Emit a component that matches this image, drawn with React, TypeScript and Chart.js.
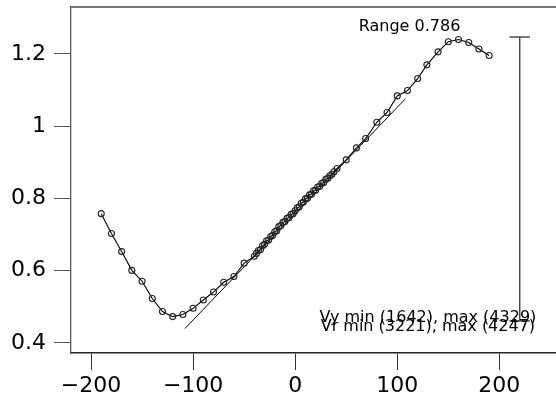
import React, { useEffect, useRef } from "react";
import { Chart, registerables } from "chart.js";

Chart.register(...registerables);

const curveX = [
  -190, -180, -170, -160, -150, -140, -130, -120, -110, -100, -90, -80, -70, -60, -50, -40,
  -38, -36, -34, -32, -30, -28, -26, -24, -22, -20, -18, -16, -14, -12, -10, -8, -6, -4, -2,
  0, 2, 4, 6, 8, 10, 12, 14, 16, 18, 20, 22, 24, 26, 28, 30, 32, 34, 36, 38,
  41, 50, 60, 69, 80, 90, 100, 110, 120, 129, 140, 150, 160, 170, 180, 190,
];
const curveY = [
  0.758, 0.703, 0.653, 0.601, 0.571, 0.523, 0.487, 0.473, 0.479, 0.496, 0.519, 0.541, 0.568, 0.584, 0.621, 0.64,
  0.648, 0.656, 0.659, 0.669, 0.673, 0.683, 0.685, 0.695, 0.698, 0.708, 0.711, 0.722, 0.725, 0.734, 0.736, 0.745, 0.747, 0.756, 0.758,
  0.766, 0.774, 0.777, 0.787, 0.79, 0.799, 0.801, 0.81, 0.812, 0.821, 0.823, 0.832, 0.834, 0.842, 0.844, 0.853, 0.856, 0.863, 0.867, 0.874,
  0.883, 0.907, 0.94, 0.966, 1.011, 1.038, 1.084, 1.099, 1.132, 1.17, 1.206, 1.234, 1.24, 1.232, 1.214, 1.196,
];
const fitX = [-108, 108];
const fitY = [0.44, 1.076];

const rangeX = 220;
const rangeLow = 0.461;
const rangeHigh = 1.247;
const capHalf = 10;

const xTicks = [-200, -100, 0, 100, 200];
const yTicks = [0.4, 0.6, 0.8, 1, 1.2];

const rangeLabel = "Range 0.786";
const rangeLabelAt = [112, 1.274];
const vyLabel = "Vy min (1642), max (4329)";
const vyLabelAt = [130, 0.471];
const vrLabel = "Vr min (3221), max (4247)";
const vrLabelAt = [130, 0.444];

const FONT = "'DejaVu Sans', sans-serif";

export default function App() {
  const ref = useRef<HTMLCanvasElement | null>(null);

  useEffect(() => {
    const canvas = ref.current;
    if (!canvas) return;

    const textPlugin = {
      id: "texts",
      afterDatasetsDraw(chart: any) {
        const ctx = chart.ctx;
        const xs = chart.scales.x;
        const ys = chart.scales.y;
        const area = chart.chartArea;
        ctx.save();
        ctx.strokeStyle = "#777777";
        ctx.lineWidth = 2;
        ctx.beginPath();
        ctx.moveTo(area.left, area.top);
        ctx.lineTo(area.right, area.top);
        ctx.stroke();
        ctx.fillStyle = "#000000";
        ctx.font = `16px ${FONT}`;
        ctx.textAlign = "center";
        ctx.textBaseline = "middle";
        const items: [string, number[]][] = [
          [rangeLabel, rangeLabelAt],
          [vyLabel, vyLabelAt],
          [vrLabel, vrLabelAt],
        ];
        for (const [t, p] of items) {
          ctx.fillText(t, xs.getPixelForValue(p[0]), ys.getPixelForValue(p[1]));
        }
        ctx.restore();
      },
    };

    const line = (xv: number[], yv: number[]) => xv.map((x, i) => ({ x, y: yv[i] }));

    const chart = new Chart(canvas, {
      type: "scatter",
      data: {
        datasets: [
          {
            data: line(curveX, curveY),
            showLine: true,
            borderColor: "#000000",
            borderWidth: 1.1,
            pointRadius: 3,
            pointBorderColor: "#222222",
            pointBackgroundColor: "rgba(0,0,0,0)",
            pointBorderWidth: 1.1,
          },
          {
            data: line(fitX, fitY),
            showLine: true,
            borderColor: "#000000",
            borderWidth: 1,
            pointRadius: 0,
          },
          {
            data: line([rangeX, rangeX], [rangeLow, rangeHigh]),
            showLine: true,
            borderColor: "#333333",
            borderWidth: 1.3,
            pointRadius: 0,
          },
          {
            data: line([rangeX - capHalf, rangeX + capHalf], [rangeHigh, rangeHigh]),
            showLine: true,
            borderColor: "#333333",
            borderWidth: 1.3,
            pointRadius: 0,
          },
          {
            data: line([rangeX - capHalf, rangeX + capHalf], [rangeLow, rangeLow]),
            showLine: true,
            borderColor: "#333333",
            borderWidth: 1.3,
            pointRadius: 0,
          },
        ],
      },
      options: {
        responsive: false,
        animation: false,
        devicePixelRatio: 1,
        layout: { autoPadding: false, padding: { top: 7, left: 0, right: 0, bottom: 0 } },
        plugins: { legend: { display: false }, tooltip: { enabled: false } },
        scales: {
          x: {
            type: "linear",
            min: -219.6,
            max: 255.5,
            afterBuildTicks: (s: any) => {
              s.ticks = xTicks.map((v) => ({ value: v }));
            },
            afterFit: (s: any) => {
              s.height = 49;
              s.paddingLeft = 0;
              s.paddingRight = 0;
              s.paddingTop = 0;
              s.paddingBottom = 0;
            },
            border: { display: true, color: "#222222", width: 1.5 },
            grid: { drawOnChartArea: false, drawTicks: true, tickLength: 17, color: "#333333", lineWidth: 1 },
            ticks: {
              padding: 3,
              color: "#000000",
              font: { family: FONT, size: 22 },
              maxRotation: 0,
              callback: (v: any) => (Number(v) < 0 ? "\u2212" + Math.abs(Number(v)) : String(v)),
            },
          },
          y: {
            type: "linear",
            min: 0.3723,
            max: 1.3301,
            afterBuildTicks: (s: any) => {
              s.ticks = yTicks.map((v) => ({ value: v }));
            },
            afterFit: (s: any) => {
              s.width = 71;
              s.paddingLeft = 0;
              s.paddingRight = 0;
              s.paddingTop = 0;
              s.paddingBottom = 0;
            },
            border: { display: true, color: "#555555", width: 1.3 },
            grid: { drawOnChartArea: false, drawTicks: true, tickLength: 17, color: "#555555", lineWidth: 1 },
            ticks: {
              padding: 8,
              color: "#000000",
              font: { family: FONT, size: 22 },
              callback: (v: any) => String(v),
            },
          },
        },
      },
      plugins: [textPlugin],
    } as any);

    return () => chart.destroy();
  }, []);

  return (
    <div style={{ position: "absolute", left: 0, top: 0, width: 556, height: 402, background: "#ffffff" }}>
      <canvas ref={ref} width={556} height={402} />
    </div>
  );
}
